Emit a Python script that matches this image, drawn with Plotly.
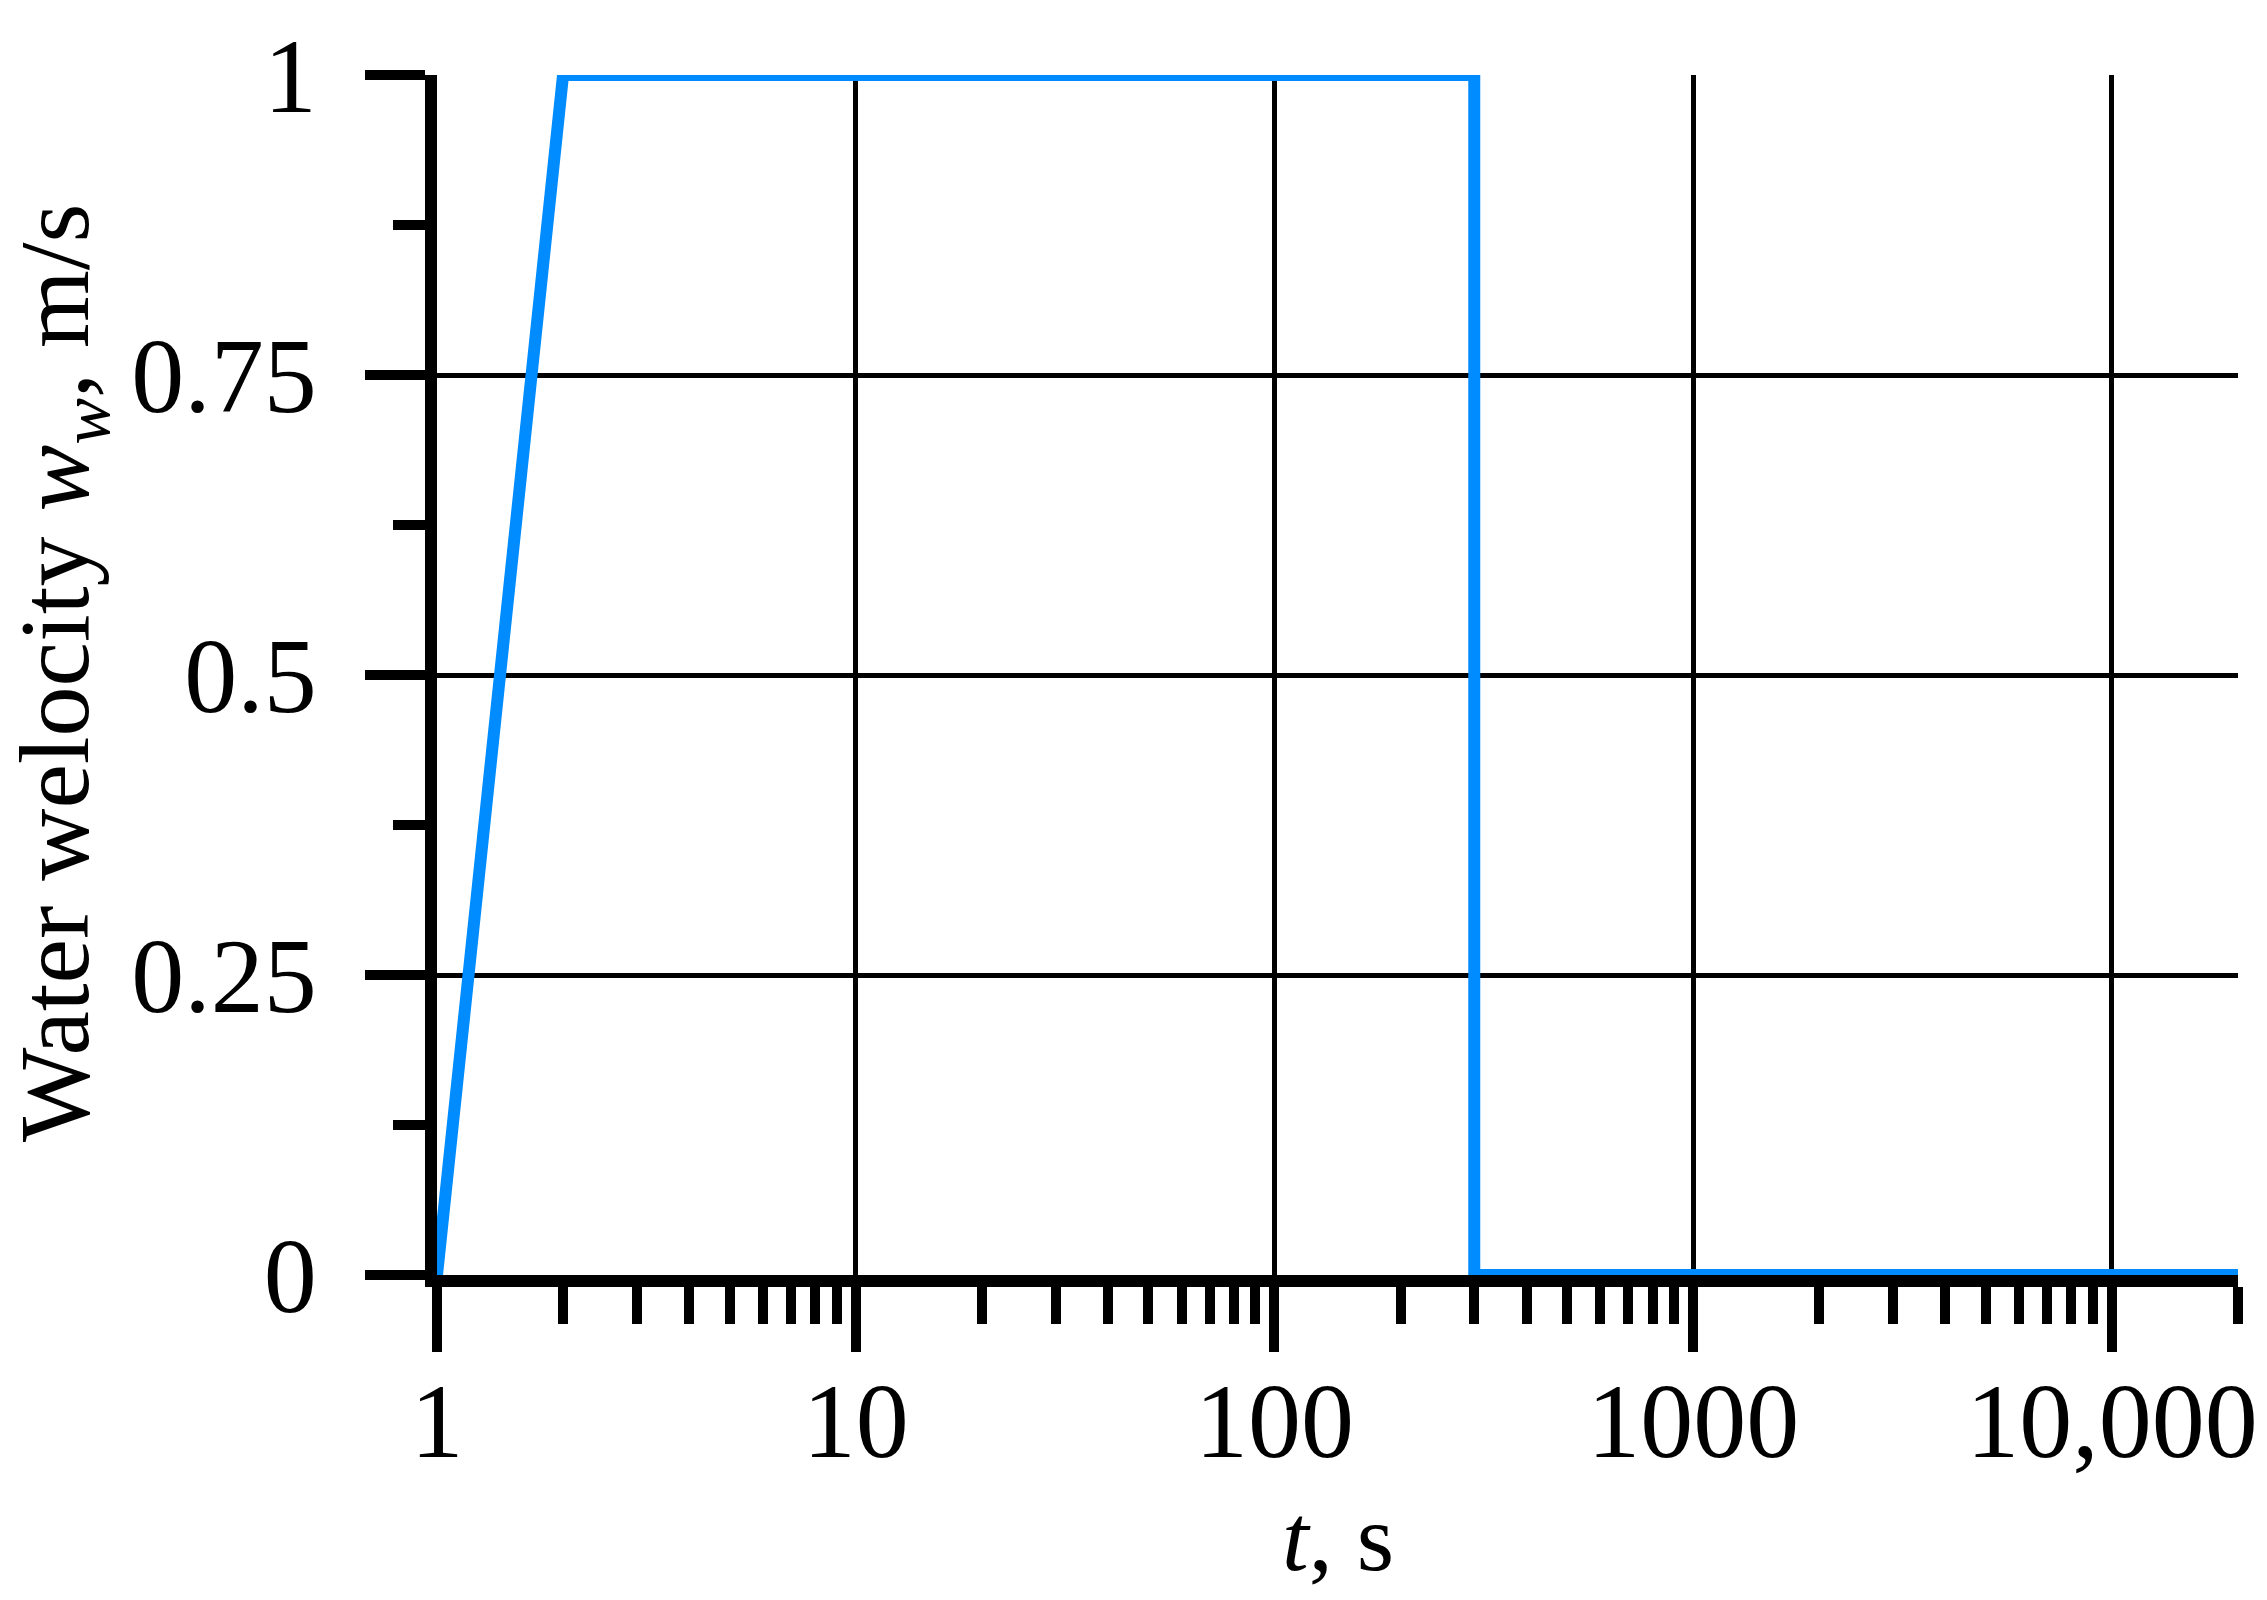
import plotly.graph_objects as go

# data
t_s = [1, 2, 300, 300, 20000]
w_water = [0, 1, 1, 0, 0]

x_tickvals = [1, 10, 100, 1000, 10000]
x_ticktext = ["1", "10", "100", "1000", "10,000"]
x_minor = [m * 10 ** k for k in range(5) for m in range(2, 10) if m * 10 ** k <= 20000]

y_tickvals = [0, 0.25, 0.5, 0.75, 1]
y_ticktext = ["0", "0.25", "0.5", "0.75", "1"]

FONT = "Liberation Serif, Times New Roman, serif"

fig = go.Figure()
fig.add_trace(go.Scatter(
    x=t_s, y=w_water, mode="lines",
    line=dict(color="#008CFF", width=12),
    cliponaxis=False, showlegend=False,
))

fig.update_layout(
    width=2267, height=1600,
    paper_bgcolor="white", plot_bgcolor="white",
    margin=dict(l=429, r=37, t=67, b=333),
    font=dict(family=FONT, size=106, color="black"),
)

fig.update_xaxes(
    type="log", range=[0, 4.30103], automargin=False,
    tickvals=x_tickvals, ticktext=x_ticktext,
    showline=True, linecolor="black", linewidth=12,
    ticks="outside", ticklen=65, tickwidth=10, tickcolor="black",
    ticklabelstandoff=-22,
    showgrid=True, gridcolor="black", gridwidth=5,
    zeroline=False, layer="below traces",
    minor=dict(tickvals=x_minor, ticks="outside", ticklen=37, tickwidth=10,
               tickcolor="black", showgrid=False),
)

fig.update_yaxes(
    range=[0, 1], automargin=False,
    tickvals=y_tickvals, ticktext=y_ticktext,
    showline=True, linecolor="black", linewidth=12,
    ticks="outside", ticklen=60, tickwidth=10, tickcolor="black",
    ticklabelstandoff=27,
    showgrid=True, gridcolor="black", gridwidth=5,
    zeroline=False, layer="below traces",
    minor=dict(dtick=0.125, ticks="outside", ticklen=32, tickwidth=10,
               tickcolor="black", showgrid=False),
)

# axis titles
fig.add_annotation(
    text="Water welocity <i>w</i><sub><i>w</i></sub>, m/s",
    xref="paper", yref="paper", x=0, y=0.5, xshift=-376, yshift=2,
    xanchor="center", yanchor="middle", textangle=-90,
    showarrow=False, font=dict(family=FONT, size=100, color="black"),
)
fig.add_annotation(
    text="<i>t</i>, s",
    xref="paper", yref="paper", x=0.5, y=0, yshift=-262,
    xanchor="center", yanchor="middle",
    showarrow=False, font=dict(family=FONT, size=96, color="black"),
)

fig.write_html("out.html")
